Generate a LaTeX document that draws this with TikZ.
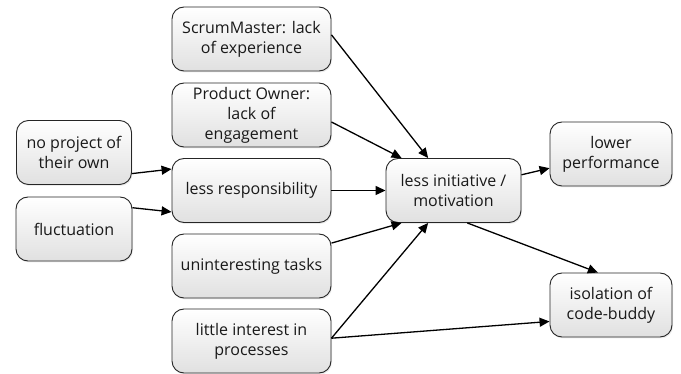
\documentclass[tikz,border=0pt]{standalone}
\usepackage{fontspec}
\setmainfont{Open Sans}
\usepackage{tikz}
\usetikzlibrary{arrows.meta}
\usetikzlibrary{shadows}

\tikzset{
  cause/.style={draw=black!85, line width=0.9pt, rounded corners=12pt, minimum width=159pt, minimum height=64pt,
    align=center, text=black!90, top color=white, bottom color=black!12,
    drop shadow={opacity=0.15, shadow xshift=1pt, shadow yshift=-1.5pt},
    font=\fontsize{16}{20}\selectfont},
  link/.style={draw, line width=1.3pt, -{Triangle[length=10pt, width=9pt]}}
}

\begin{document}
\begin{tikzpicture}[x=1pt, y=-1pt]
			\useasboundingbox (0,0) rectangle (681,374);

			\node[cause] (sm) at (251.5,39) {ScrumMaster: lack\\of experience};
			\node[cause] (po) at (251.5,115) {Product Owner:\\lack of\\engagement};
			\node[cause, minimum width=115pt] (np) at (74,152.5) {no project of\\their own};
			\node[cause] (lr) at (251.5,190.5) {less responsibility};
			\node[cause, minimum width=116pt] (fl) at (74,229) {fluctuation};
			\node[cause] (ut) at (251.5,266) {uninteresting tasks};
			\node[cause] (lp) at (251.5,341) {little interest in\\processes};

			\node[cause, minimum width=135pt] (li) at (453.5,190.5) {less initiative /\\motivation};

			\node[cause, minimum width=122pt] (pf) at (611,154) {lower\\performance};
			\node[cause, minimum width=122pt] (cb) at (611,305) {isolation of\\code-buddy};

			\path[link] (sm.3) -- (li.128);
			\path[link] (po.355) -- (li.148);
			\path[link] (np.340) -- (lr.165);
			\path[link] (fl.20) -- (lr.195);
			\path[link] (lr) -- (li);
			\path[link] (ut) -- (li.212);
			\path[link] (lp.2) -- (li.232);
			\path[link] (lp.2) -- (cb.195);
			\path[link] (li.13) -- (pf.193);
			\path[link] (li.293) -- (cb.112);
        \end{tikzpicture}
\end{document}
